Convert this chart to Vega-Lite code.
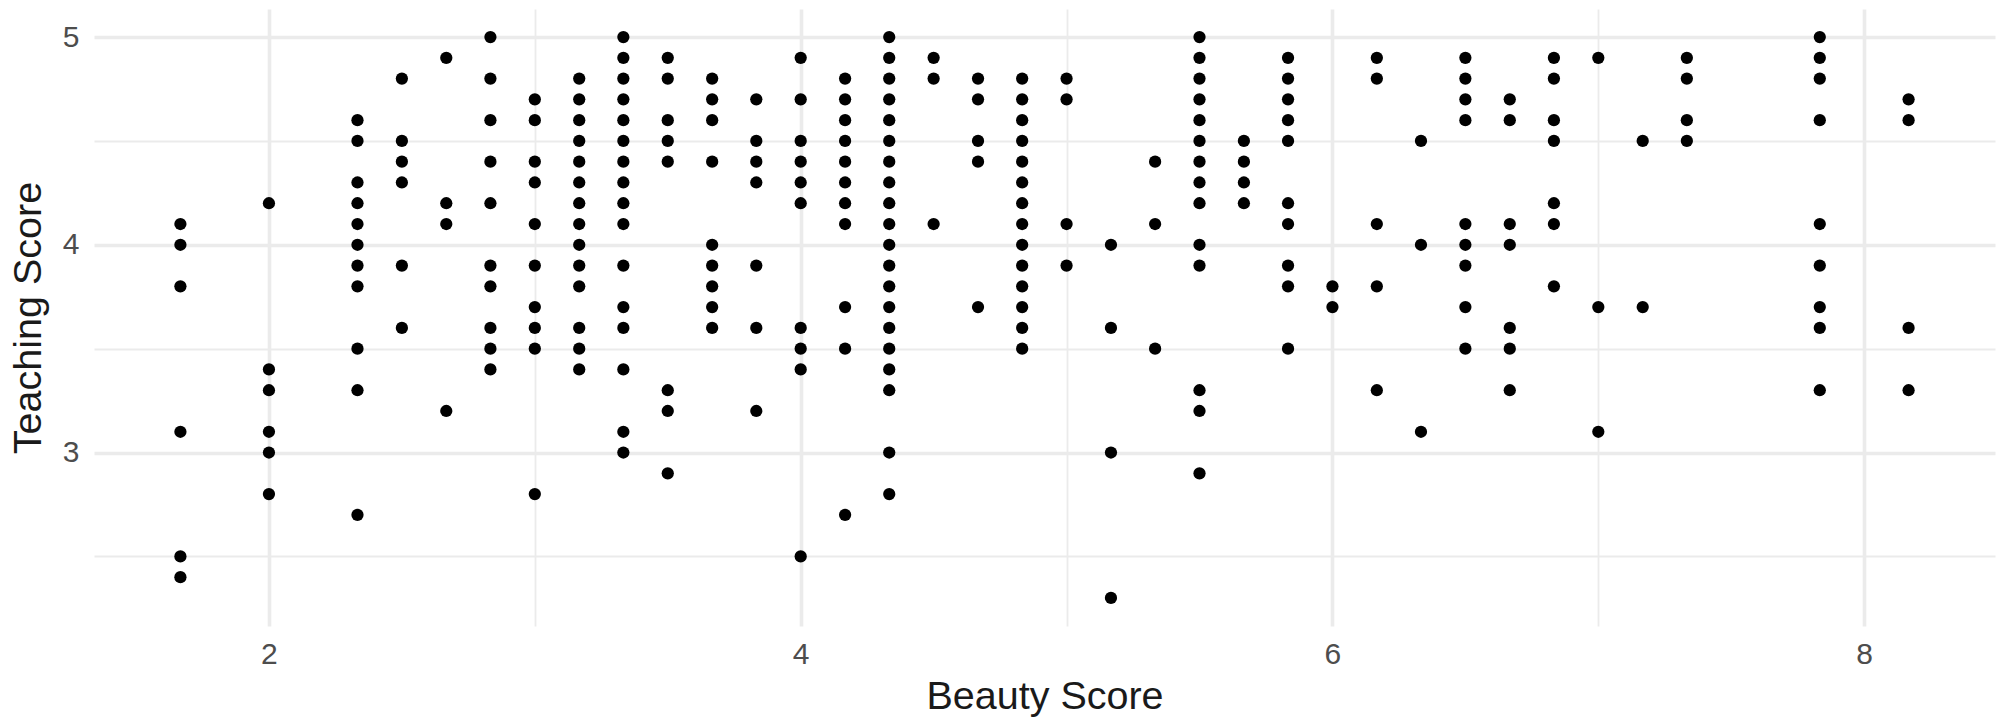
{
  "$schema": "https://vega.github.io/schema/vega-lite/v6.json",
  "width": 1901,
  "height": 617,
  "autosize": {"type": "none"},
  "padding": {"left": 94, "right": 4, "top": 9, "bottom": 94},
  "background": "white",
  "config": {
    "view": {"stroke": null},
    "font": "Liberation Sans",
    "axis": {
      "domain": false,
      "ticks": false,
      "tickSize": 0,
      "gridColor": "#EBEBEB",
      "labelFont": "Liberation Sans",
      "labelFontSize": 30,
      "labelColor": "#4D4D4D",
      "titleFont": "Liberation Sans",
      "titleFontSize": 39.5,
      "titleFontWeight": "normal",
      "titleColor": "#1A1A1A"
    }
  },
  "data": {"values": [
    {"beauty": 1.667, "teaching": 4.1}, {"beauty": 1.667, "teaching": 4.0}, {"beauty": 1.667, "teaching": 3.8}, {"beauty": 1.667, "teaching": 3.1}, {"beauty": 1.667, "teaching": 2.5}, {"beauty": 1.667, "teaching": 2.4},
    {"beauty": 2, "teaching": 4.2}, {"beauty": 2, "teaching": 3.4}, {"beauty": 2, "teaching": 3.3}, {"beauty": 2, "teaching": 3.1}, {"beauty": 2, "teaching": 3.0}, {"beauty": 2, "teaching": 2.8},
    {"beauty": 2.333, "teaching": 4.6}, {"beauty": 2.333, "teaching": 4.5}, {"beauty": 2.333, "teaching": 4.3}, {"beauty": 2.333, "teaching": 4.2}, {"beauty": 2.333, "teaching": 4.1}, {"beauty": 2.333, "teaching": 4.0}, {"beauty": 2.333, "teaching": 3.9}, {"beauty": 2.333, "teaching": 3.8}, {"beauty": 2.333, "teaching": 3.5}, {"beauty": 2.333, "teaching": 3.3}, {"beauty": 2.333, "teaching": 2.7},
    {"beauty": 2.5, "teaching": 4.8}, {"beauty": 2.5, "teaching": 4.5}, {"beauty": 2.5, "teaching": 4.4}, {"beauty": 2.5, "teaching": 4.3}, {"beauty": 2.5, "teaching": 3.9}, {"beauty": 2.5, "teaching": 3.6},
    {"beauty": 2.667, "teaching": 4.9}, {"beauty": 2.667, "teaching": 4.2}, {"beauty": 2.667, "teaching": 4.1}, {"beauty": 2.667, "teaching": 3.2},
    {"beauty": 2.833, "teaching": 5.0}, {"beauty": 2.833, "teaching": 4.8}, {"beauty": 2.833, "teaching": 4.6}, {"beauty": 2.833, "teaching": 4.4}, {"beauty": 2.833, "teaching": 4.2}, {"beauty": 2.833, "teaching": 3.9}, {"beauty": 2.833, "teaching": 3.8}, {"beauty": 2.833, "teaching": 3.6}, {"beauty": 2.833, "teaching": 3.5}, {"beauty": 2.833, "teaching": 3.4},
    {"beauty": 3, "teaching": 4.7}, {"beauty": 3, "teaching": 4.6}, {"beauty": 3, "teaching": 4.4}, {"beauty": 3, "teaching": 4.3}, {"beauty": 3, "teaching": 4.1}, {"beauty": 3, "teaching": 3.9}, {"beauty": 3, "teaching": 3.7}, {"beauty": 3, "teaching": 3.6}, {"beauty": 3, "teaching": 3.5}, {"beauty": 3, "teaching": 2.8},
    {"beauty": 3.167, "teaching": 4.8}, {"beauty": 3.167, "teaching": 4.7}, {"beauty": 3.167, "teaching": 4.6}, {"beauty": 3.167, "teaching": 4.5}, {"beauty": 3.167, "teaching": 4.4}, {"beauty": 3.167, "teaching": 4.3}, {"beauty": 3.167, "teaching": 4.2}, {"beauty": 3.167, "teaching": 4.1}, {"beauty": 3.167, "teaching": 4.0}, {"beauty": 3.167, "teaching": 3.9}, {"beauty": 3.167, "teaching": 3.8}, {"beauty": 3.167, "teaching": 3.6}, {"beauty": 3.167, "teaching": 3.5}, {"beauty": 3.167, "teaching": 3.4},
    {"beauty": 3.333, "teaching": 5.0}, {"beauty": 3.333, "teaching": 4.9}, {"beauty": 3.333, "teaching": 4.8}, {"beauty": 3.333, "teaching": 4.7}, {"beauty": 3.333, "teaching": 4.6}, {"beauty": 3.333, "teaching": 4.5}, {"beauty": 3.333, "teaching": 4.4}, {"beauty": 3.333, "teaching": 4.3}, {"beauty": 3.333, "teaching": 4.2}, {"beauty": 3.333, "teaching": 4.1}, {"beauty": 3.333, "teaching": 3.9}, {"beauty": 3.333, "teaching": 3.7}, {"beauty": 3.333, "teaching": 3.6}, {"beauty": 3.333, "teaching": 3.4}, {"beauty": 3.333, "teaching": 3.1}, {"beauty": 3.333, "teaching": 3.0},
    {"beauty": 3.5, "teaching": 4.9}, {"beauty": 3.5, "teaching": 4.8}, {"beauty": 3.5, "teaching": 4.6}, {"beauty": 3.5, "teaching": 4.5}, {"beauty": 3.5, "teaching": 4.4}, {"beauty": 3.5, "teaching": 3.3}, {"beauty": 3.5, "teaching": 3.2}, {"beauty": 3.5, "teaching": 2.9},
    {"beauty": 3.667, "teaching": 4.8}, {"beauty": 3.667, "teaching": 4.7}, {"beauty": 3.667, "teaching": 4.6}, {"beauty": 3.667, "teaching": 4.4}, {"beauty": 3.667, "teaching": 4.0}, {"beauty": 3.667, "teaching": 3.9}, {"beauty": 3.667, "teaching": 3.8}, {"beauty": 3.667, "teaching": 3.7}, {"beauty": 3.667, "teaching": 3.6},
    {"beauty": 3.833, "teaching": 4.7}, {"beauty": 3.833, "teaching": 4.5}, {"beauty": 3.833, "teaching": 4.4}, {"beauty": 3.833, "teaching": 4.3}, {"beauty": 3.833, "teaching": 3.9}, {"beauty": 3.833, "teaching": 3.6}, {"beauty": 3.833, "teaching": 3.2},
    {"beauty": 4, "teaching": 4.9}, {"beauty": 4, "teaching": 4.7}, {"beauty": 4, "teaching": 4.5}, {"beauty": 4, "teaching": 4.4}, {"beauty": 4, "teaching": 4.3}, {"beauty": 4, "teaching": 4.2}, {"beauty": 4, "teaching": 3.6}, {"beauty": 4, "teaching": 3.5}, {"beauty": 4, "teaching": 3.4}, {"beauty": 4, "teaching": 2.5},
    {"beauty": 4.167, "teaching": 4.8}, {"beauty": 4.167, "teaching": 4.7}, {"beauty": 4.167, "teaching": 4.6}, {"beauty": 4.167, "teaching": 4.5}, {"beauty": 4.167, "teaching": 4.4}, {"beauty": 4.167, "teaching": 4.3}, {"beauty": 4.167, "teaching": 4.2}, {"beauty": 4.167, "teaching": 4.1}, {"beauty": 4.167, "teaching": 3.7}, {"beauty": 4.167, "teaching": 3.5}, {"beauty": 4.167, "teaching": 2.7},
    {"beauty": 4.333, "teaching": 5.0}, {"beauty": 4.333, "teaching": 4.9}, {"beauty": 4.333, "teaching": 4.8}, {"beauty": 4.333, "teaching": 4.7}, {"beauty": 4.333, "teaching": 4.6}, {"beauty": 4.333, "teaching": 4.5}, {"beauty": 4.333, "teaching": 4.4}, {"beauty": 4.333, "teaching": 4.3}, {"beauty": 4.333, "teaching": 4.2}, {"beauty": 4.333, "teaching": 4.1}, {"beauty": 4.333, "teaching": 4.0}, {"beauty": 4.333, "teaching": 3.9}, {"beauty": 4.333, "teaching": 3.8}, {"beauty": 4.333, "teaching": 3.7}, {"beauty": 4.333, "teaching": 3.6}, {"beauty": 4.333, "teaching": 3.5}, {"beauty": 4.333, "teaching": 3.4}, {"beauty": 4.333, "teaching": 3.3}, {"beauty": 4.333, "teaching": 3.0}, {"beauty": 4.333, "teaching": 2.8},
    {"beauty": 4.5, "teaching": 4.9}, {"beauty": 4.5, "teaching": 4.8}, {"beauty": 4.5, "teaching": 4.1},
    {"beauty": 4.667, "teaching": 4.8}, {"beauty": 4.667, "teaching": 4.7}, {"beauty": 4.667, "teaching": 4.5}, {"beauty": 4.667, "teaching": 4.4}, {"beauty": 4.667, "teaching": 3.7},
    {"beauty": 4.833, "teaching": 4.8}, {"beauty": 4.833, "teaching": 4.7}, {"beauty": 4.833, "teaching": 4.6}, {"beauty": 4.833, "teaching": 4.5}, {"beauty": 4.833, "teaching": 4.4}, {"beauty": 4.833, "teaching": 4.3}, {"beauty": 4.833, "teaching": 4.2}, {"beauty": 4.833, "teaching": 4.1}, {"beauty": 4.833, "teaching": 4.0}, {"beauty": 4.833, "teaching": 3.9}, {"beauty": 4.833, "teaching": 3.8}, {"beauty": 4.833, "teaching": 3.7}, {"beauty": 4.833, "teaching": 3.6}, {"beauty": 4.833, "teaching": 3.5},
    {"beauty": 5, "teaching": 4.8}, {"beauty": 5, "teaching": 4.7}, {"beauty": 5, "teaching": 4.1}, {"beauty": 5, "teaching": 3.9},
    {"beauty": 5.167, "teaching": 4.0}, {"beauty": 5.167, "teaching": 3.6}, {"beauty": 5.167, "teaching": 3.0}, {"beauty": 5.167, "teaching": 2.3},
    {"beauty": 5.333, "teaching": 4.4}, {"beauty": 5.333, "teaching": 4.1}, {"beauty": 5.333, "teaching": 3.5},
    {"beauty": 5.5, "teaching": 5.0}, {"beauty": 5.5, "teaching": 4.9}, {"beauty": 5.5, "teaching": 4.8}, {"beauty": 5.5, "teaching": 4.7}, {"beauty": 5.5, "teaching": 4.6}, {"beauty": 5.5, "teaching": 4.5}, {"beauty": 5.5, "teaching": 4.4}, {"beauty": 5.5, "teaching": 4.3}, {"beauty": 5.5, "teaching": 4.2}, {"beauty": 5.5, "teaching": 4.0}, {"beauty": 5.5, "teaching": 3.9}, {"beauty": 5.5, "teaching": 3.3}, {"beauty": 5.5, "teaching": 3.2}, {"beauty": 5.5, "teaching": 2.9},
    {"beauty": 5.667, "teaching": 4.5}, {"beauty": 5.667, "teaching": 4.4}, {"beauty": 5.667, "teaching": 4.3}, {"beauty": 5.667, "teaching": 4.2},
    {"beauty": 5.833, "teaching": 4.9}, {"beauty": 5.833, "teaching": 4.8}, {"beauty": 5.833, "teaching": 4.7}, {"beauty": 5.833, "teaching": 4.6}, {"beauty": 5.833, "teaching": 4.5}, {"beauty": 5.833, "teaching": 4.2}, {"beauty": 5.833, "teaching": 4.1}, {"beauty": 5.833, "teaching": 3.9}, {"beauty": 5.833, "teaching": 3.8}, {"beauty": 5.833, "teaching": 3.5},
    {"beauty": 6, "teaching": 3.8}, {"beauty": 6, "teaching": 3.7},
    {"beauty": 6.167, "teaching": 4.9}, {"beauty": 6.167, "teaching": 4.8}, {"beauty": 6.167, "teaching": 4.1}, {"beauty": 6.167, "teaching": 3.8}, {"beauty": 6.167, "teaching": 3.3},
    {"beauty": 6.333, "teaching": 4.5}, {"beauty": 6.333, "teaching": 4.0}, {"beauty": 6.333, "teaching": 3.1},
    {"beauty": 6.5, "teaching": 4.9}, {"beauty": 6.5, "teaching": 4.8}, {"beauty": 6.5, "teaching": 4.7}, {"beauty": 6.5, "teaching": 4.6}, {"beauty": 6.5, "teaching": 4.1}, {"beauty": 6.5, "teaching": 4.0}, {"beauty": 6.5, "teaching": 3.9}, {"beauty": 6.5, "teaching": 3.7}, {"beauty": 6.5, "teaching": 3.5},
    {"beauty": 6.667, "teaching": 4.7}, {"beauty": 6.667, "teaching": 4.6}, {"beauty": 6.667, "teaching": 4.1}, {"beauty": 6.667, "teaching": 4.0}, {"beauty": 6.667, "teaching": 3.6}, {"beauty": 6.667, "teaching": 3.5}, {"beauty": 6.667, "teaching": 3.3},
    {"beauty": 6.833, "teaching": 4.9}, {"beauty": 6.833, "teaching": 4.8}, {"beauty": 6.833, "teaching": 4.6}, {"beauty": 6.833, "teaching": 4.5}, {"beauty": 6.833, "teaching": 4.2}, {"beauty": 6.833, "teaching": 4.1}, {"beauty": 6.833, "teaching": 3.8},
    {"beauty": 7, "teaching": 4.9}, {"beauty": 7, "teaching": 3.7}, {"beauty": 7, "teaching": 3.1},
    {"beauty": 7.167, "teaching": 4.5}, {"beauty": 7.167, "teaching": 3.7},
    {"beauty": 7.333, "teaching": 4.9}, {"beauty": 7.333, "teaching": 4.8}, {"beauty": 7.333, "teaching": 4.6}, {"beauty": 7.333, "teaching": 4.5},
    {"beauty": 7.833, "teaching": 5.0}, {"beauty": 7.833, "teaching": 4.9}, {"beauty": 7.833, "teaching": 4.8}, {"beauty": 7.833, "teaching": 4.6}, {"beauty": 7.833, "teaching": 4.1}, {"beauty": 7.833, "teaching": 3.9}, {"beauty": 7.833, "teaching": 3.7}, {"beauty": 7.833, "teaching": 3.6}, {"beauty": 7.833, "teaching": 3.3},
    {"beauty": 8.167, "teaching": 4.7}, {"beauty": 8.167, "teaching": 4.6}, {"beauty": 8.167, "teaching": 3.6}, {"beauty": 8.167, "teaching": 3.3}
  ]},
  "mark": {"type": "circle", "size": 150, "color": "black", "opacity": 1},
  "encoding": {
    "x": {
      "field": "beauty",
      "type": "quantitative",
      "title": "Beauty Score",
      "scale": {"domain": [1.342, 8.492], "nice": false, "zero": false},
      "axis": {
        "values": [2, 3, 4, 5, 6, 7, 8],
        "labelExpr": "datum.value % 2 == 0 ? datum.label : ''",
        "gridWidth": {"condition": {"test": "datum.value % 2 == 0", "value": 3.6}, "value": 1.8},
        "labelPadding": 13,
        "titlePadding": 8
      }
    },
    "y": {
      "field": "teaching",
      "type": "quantitative",
      "title": "Teaching Score",
      "scale": {"domain": [2.165, 5.135], "nice": false, "zero": false},
      "axis": {
        "values": [2.5, 3, 3.5, 4, 4.5, 5],
        "labelExpr": "datum.value % 1 == 0 ? format(datum.value, 'd') : ''",
        "gridWidth": {"condition": {"test": "datum.value % 1 == 0", "value": 3.6}, "value": 1.8},
        "labelPadding": 15,
        "titlePadding": 14
      }
    }
  }
}
